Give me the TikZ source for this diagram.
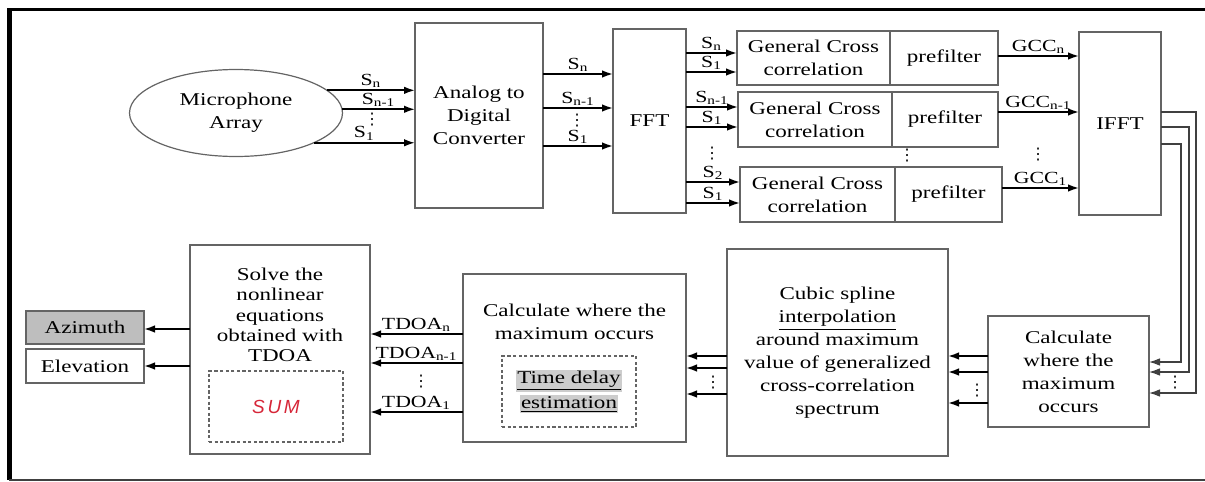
\documentclass[tikz,border=0pt]{standalone}
\usepackage{fontspec}
\setmainfont{Liberation Serif}[FakeStretch=1.28]
\newfontfamily\sumfont{Liberation Sans}[LetterSpace=14]
\newfontfamily\symfont{DejaVu Sans}
\usetikzlibrary{arrows.meta,shapes.geometric}

\definecolor{boxgray}{RGB}{100,100,100}
\definecolor{azigray}{RGB}{190,190,190}
\definecolor{hlgray}{RGB}{205,205,205}
\definecolor{sumred}{RGB}{214,38,56}

% block from corner (x1,y1) to corner (x2,y2), pixel units
\newcommand{\blkt}[7][blk]{\node[#1, minimum width={(#5-#3)*0.5pt}, minimum height={(#6-#4)*0.5pt}] (#2) at ({(#3+#5)/2},{(#4+#6)/2}) {#7};}
\newcommand{\hltext}[1]{{\setlength{\fboxsep}{0.5pt}\colorbox{hlgray}{\underline{#1}}}}

\begin{document}
\begin{tikzpicture}[x=0.5pt, y=-0.5pt,
  blk/.style={draw=boxgray, line width=0.6pt, align=center, inner sep=0pt, outer sep=0pt, font=\fontsize{9}{11.5}\selectfont},
  dashbox/.style={blk, dash pattern=on 1.6pt off 1.2pt},
  sig/.style={line width=0.9pt, -{Latex[length=5.5pt,width=3.8pt]}},
  feed/.style={draw=black!75, line width=0.6pt, -{Latex[length=5.5pt,width=3.8pt]}},
  lbl/.style={font=\fontsize{8.5}{9}\selectfont, inner sep=0.8pt},
  dots/.style={font=\symfont\fontsize{8}{8}\selectfont, inner sep=0pt}]
    \useasboundingbox (0,0) rectangle (1205,482);

    % frame
    \draw[line width=1.6pt] (7,9.5) -- (1205,9.5);
    \draw[line width=2.6pt] (9.5,8) -- (9.5,480);
    \draw[line width=1pt, black!75] (9,479.5) -- (1205,479.5);

    % upper row
    \node[ellipse, draw=boxgray, line width=0.6pt, minimum width=106.5pt, minimum height=43.5pt,
          inner sep=0pt, outer sep=0pt, align=center, font=\fontsize{9}{11.5}\selectfont] (mic) at (236,113) {Microphone\\Array};
    \blkt{adc}{415}{23}{543}{208}{Analog to\\Digital\\Converter}
    \blkt{fft}{613}{29}{686}{213}{FFT}
    \blkt{gcca}{737}{31}{890}{85}{General Cross\\correlation}
    \blkt{pfa}{890}{31}{998}{85}{prefilter}
    \blkt{gccb}{738}{92}{892}{147}{General Cross\\correlation}
    \blkt{pfb}{892}{92}{998}{147}{prefilter}
    \blkt{gccc}{740}{167}{895}{222}{General Cross\\correlation}
    \blkt{pfc}{895}{167}{1002}{222}{prefilter}
    \blkt{ifft}{1079}{32}{1161}{215}{IFFT}

    % lower row
    \blkt{calc}{988}{316}{1149}{427}{Calculate\\where the\\maximum\\occurs}
    \blkt{spline}{727}{249}{948}{456}{Cubic spline\\\underline{interpolation}\\around maximum\\value of generalized\\cross-correlation\\spectrum}
    \blkt{est}{463}{274}{686}{442}{}
    \node[blk, draw=none] (esttxt) at (574.5,322) {Calculate where the\\maximum occurs};
    \blkt[dashbox]{tde}{502}{356}{636}{427}{\hltext{Time delay}\\[1pt]\hltext{estimation}}
    \blkt{solve}{190}{245}{370}{454}{}
    \node[blk, draw=none, font=\fontsize{9}{10.2}\selectfont] (solvetxt) at (280,315) {Solve the\\nonlinear\\equations\\obtained with\\TDOA};
    \blkt[dashbox]{sum}{209}{371}{343}{442}{\sumfont\itshape\fontsize{9.5}{10}\selectfont\color{sumred}SUM}
    \blkt[blk, fill=azigray]{azi}{26}{311}{144}{344}{Azimuth}
    \blkt{elev}{26}{349}{144}{383}{Elevation}

    % microphone to converter
    \draw[sig] (mic.14) -- (mic.14 -| adc.west) node[lbl, midway, above] {S\textsubscript{n}};
    \draw[sig] (mic.2) -- (mic.2 -| adc.west) node[lbl, midway, above] {S\textsubscript{n-1}};
    \draw[sig] (mic.-21) -- (mic.-21 -| adc.west) node[lbl, midway, above] {S\textsubscript{1}};
    \node[dots] (micdots) at (372,120) {⋮};

    % converter to FFT
    \foreach \y/\t in {74/n, 108/n-1, 146/1}
        \draw[sig] (adc.east |- 0,\y) -- (fft.west |- 0,\y) node[lbl, midway, above] {S\textsubscript{\t}};
    \node[dots] (adcdots) at (577,121) {⋮};

    % FFT to cross correlation
    \foreach \y/\g/\t in {53/gcca/n, 72/gcca/1, 107/gccb/n-1, 127/gccb/1, 182/gccc/2, 203/gccc/1}
        \draw[sig] (fft.east |- 0,\y) -- (\g.west |- 0,\y) node[lbl, midway, above] {S\textsubscript{\t}};
    \node[dots] (fftdots) at (712,154) {⋮};
    \node[dots] (gccdots) at (907,156) {⋮};

    % prefilter to IFFT
    \foreach \y/\p/\t in {56/pfa/n, 112/pfb/n-1, 188/pfc/1}
        \draw[sig] (\p.east |- 0,\y) -- (ifft.west |- 0,\y) node[lbl, midway, above] {GCC\textsubscript{\t}};
    \node[dots] (pfdots) at (1038,155) {⋮};

    % IFFT back down to the lower row
    \foreach \ya/\xr/\yb in {112/1196/393, 127/1189/372, 144/1181/362}
        \draw[feed] (ifft.east |- 0,\ya) -| (\xr,\yb) -- (calc.east |- 0,\yb);
    \node[dots] (ifftdots) at (1175,383) {⋮};

    \foreach \y in {356, 372, 403}
        \draw[sig] (calc.west |- 0,\y) -- (spline.east |- 0,\y);
    \node[dots] (calcdots) at (977,391) {⋮};

    \foreach \y in {356, 368, 394}
        \draw[sig] (spline.west |- 0,\y) -- (est.east |- 0,\y);
    \node[dots] (splinedots) at (713,383) {⋮};

    \foreach \y/\t in {334/n, 363/n-1, 412/1}
        \draw[sig] (est.west |- 0,\y) -- (solve.east |- 0,\y) node[lbl, midway, above] {TDOA\textsubscript{\t}};
    \node[dots] (estdots) at (421,382) {⋮};

    % outputs
    \draw[sig] (solve.west |- 0,329) -- (azi.east |- 0,329);
    \draw[sig] (solve.west |- elev) -- (elev.east);
\end{tikzpicture}
\end{document}
